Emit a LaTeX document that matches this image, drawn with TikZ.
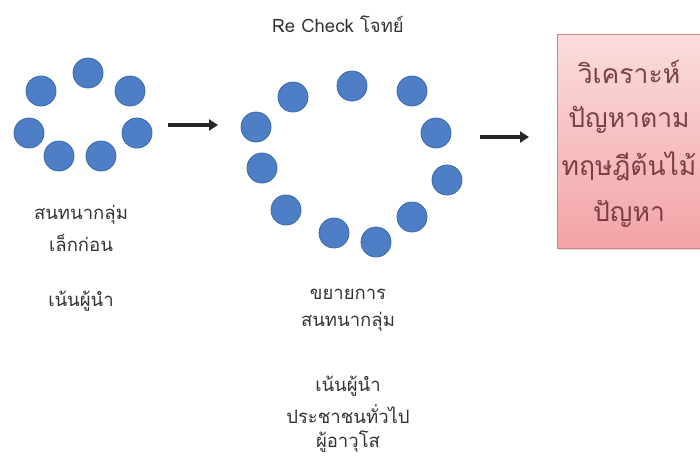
\documentclass[tikz,border=0pt]{standalone}
\usepackage{fontspec}
\setmainfont{Liberation Sans}
\newfontfamily\thaifont[Script=Thai]{Loma}
\usetikzlibrary{arrows.meta,shadows}
\definecolor{dotblue}{HTML}{4E7FC6}
\definecolor{dotline}{HTML}{3A68AA}
\definecolor{boxtop}{HTML}{FBDDDD}
\definecolor{boxbot}{HTML}{F3A3A6}
\definecolor{boxline}{HTML}{C98587}
\definecolor{boxtext}{HTML}{7A3F45}
\definecolor{txt}{HTML}{333333}
\tikzset{
  dot/.style={circle,minimum size=30pt,inner sep=0pt,fill=dotblue,draw=dotline,line width=0.8pt},
  lbl/.style={font=\thaifont\fontsize{18.5}{21}\selectfont,text=txt,inner sep=0pt},
  flow/.style={-{Triangle[length=9pt,width=11pt]},line width=3.5pt,draw=black!85},
  box/.style={draw=boxline,line width=0.8pt,top color=boxtop,bottom color=boxbot,rectangle,
    drop shadow={shadow xshift=1.5pt,shadow yshift=-1.5pt,opacity=0.25}},
  boxtxt/.style={font=\thaifont\fontsize{26.5}{30}\selectfont,text=boxtext,inner sep=0pt}
}
\begin{document}
\begin{tikzpicture}[x=1pt,y=-1pt]
\useasboundingbox (0,0) rectangle (700,464);
% left group
\node[dot] (a1) at (88,73) {};
\node[dot] (a2) at (41,91) {};
\node[dot] (a3) at (130,91) {};
\node[dot] (a4) at (29,133) {};
\node[dot] (a5) at (137,133) {};
\node[dot] (a6) at (59,156) {};
\node[dot] (a7) at (101,156) {};
% right group
\node[dot] (b1) at (352,86) {};
\node[dot] (b2) at (293,97) {};
\node[dot] (b3) at (412,91) {};
\node[dot] (b4) at (256,127) {};
\node[dot] (b5) at (436,133) {};
\node[dot] (b6) at (262,168) {};
\node[dot] (b7) at (447,180) {};
\node[dot] (b8) at (286,210) {};
\node[dot] (b9) at (412,217) {};
\node[dot] (b10) at (334,233) {};
\node[dot] (b11) at (376,242) {};
% arrows
\coordinate (p1) at (168,125);
\coordinate (q1) at (218,125);
\draw[flow] (p1) -- (q1);
\coordinate (p2) at (480,137);
\coordinate (q2) at (529,137);
\draw[flow] (p2) -- (q2);
% box
\path[box] (557,34) rectangle (704,248);
\node[boxtxt] (t1) at (629,72) {วิเคราะห์};
\node[boxtxt] (t2) at (629,120) {ปัญหาตาม};
\node[boxtxt] (t3) at (629,166) {ทฤษฎีต้นไม้};
\node[boxtxt] (t4) at (629,214) {ปัญหา};
% labels
\node[lbl] (r) at (338,24) {Re Check โจทย์};
\node[lbl] (l1) at (81,215) {สนทนากลุ่ม};
\node[lbl] (l2) at (81,243) {เล็กก่อน};
\node[lbl] (l3) at (81,301) {เน้นผู้นำ};
\node[lbl] (m1) at (348,294) {ขยายการ};
\node[lbl] (m2) at (348,322) {สนทนากลุ่ม};
\node[lbl] (m3) at (348,386) {เน้นผู้นำ};
\node[lbl] (m4) at (348,414) {ประชาชนทั่วไป};
\node[lbl] (m5) at (348,442) {ผู้อาวุโส};
\end{tikzpicture}
\end{document}
